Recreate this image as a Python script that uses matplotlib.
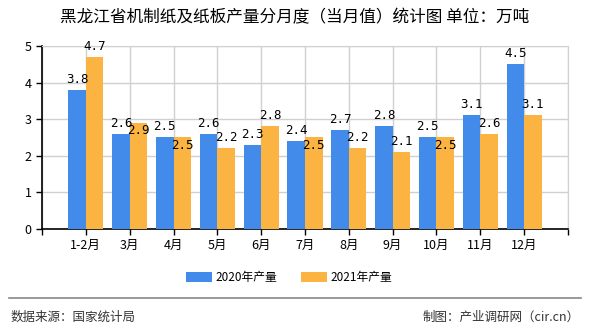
import matplotlib
matplotlib.use("Agg")
import matplotlib.pyplot as plt
import numpy as np

plt.rcParams['font.family'] = ['Noto Sans CJK SC', 'DejaVu Sans']

categories = ["1-2月", "3月", "4月", "5月", "6月", "7月", "8月", "9月", "10月", "11月", "12月"]
prod_2020 = [3.8, 2.6, 2.5, 2.6, 2.3, 2.4, 2.7, 2.8, 2.5, 3.1, 4.5]
prod_2021 = [4.7, 2.9, 2.5, 2.2, 2.8, 2.5, 2.2, 2.1, 2.5, 2.6, 3.1]
label_inside_2021 = [False, True, True, False, False, True, False, False, True, False, False]

blue = "#428BEA"
orange = "#FBB441"

fig = plt.figure(figsize=(5.9, 3.3), dpi=100)
ax = fig.add_axes([0.0712, 0.306, 0.8915, 0.555])

x = np.arange(len(categories))
w = 0.4
ax.bar(x - w/2, prod_2020, width=w, color=blue, label="2020年产量", zorder=3)
ax.bar(x + w/2, prod_2021, width=w, color=orange, label="2021年产量", zorder=3)

lblfont = dict(family=['DejaVu Sans Mono'], fontsize=9, color='black')
for xi, v in zip(x, prod_2020):
    ax.annotate(f"{v}", (xi - w/2, v), xytext=(0, 3), textcoords='offset points',
                ha='center', va='bottom', zorder=5, **lblfont)
for xi, v, ins in zip(x, prod_2021, label_inside_2021):
    if ins:
        ax.annotate(f"{v}", (xi + w/2, v), xytext=(0, -1), textcoords='offset points',
                    ha='center', va='top', zorder=5, **lblfont)
    else:
        ax.annotate(f"{v}", (xi + w/2, v), xytext=(0, 3), textcoords='offset points',
                    ha='center', va='bottom', zorder=5, **lblfont)

ax.set_xlim(-1, len(categories))
ax.set_ylim(0, 5)
ax.set_yticks(range(0, 6))
ax.set_xticks(np.arange(-1, len(categories) + 1))
ax.set_xticklabels([""] + categories + [""])
ax.tick_params(axis='both', labelsize=9, length=4, width=1, color='black', direction='out')
ax.grid(True, color='#D0D0D0', linewidth=1, zorder=0)
for s in ['top', 'right']:
    ax.spines[s].set_color('#D0D0D0')
for s in ['left', 'bottom']:
    ax.spines[s].set_color('black')
    ax.spines[s].set_linewidth(1.2)

fig.text(0.5, 0.945, "黑龙江省机制纸及纸板产量分月度（当月值）统计图 单位：万吨",
         ha='center', va='center', fontsize=12, color='black')

fig.legend(loc='center', bbox_to_anchor=(0.49, 0.16), ncol=2, frameon=False,
           fontsize=8.5, handlelength=2.2, handleheight=0.9, columnspacing=2.0, handletextpad=0.3)

fig.add_artist(plt.Line2D([0.015, 0.985], [0.097, 0.097], color='#888888', linewidth=1.2,
                          transform=fig.transFigure))
fig.text(0.017, 0.04, "数据来源：国家统计局", ha='left', va='center', fontsize=9, color='#333333')
fig.text(0.983, 0.04, "制图：产业调研网（cir.cn）", ha='right', va='center', fontsize=9, color='#333333')

fig.savefig("out.png", dpi=100)
